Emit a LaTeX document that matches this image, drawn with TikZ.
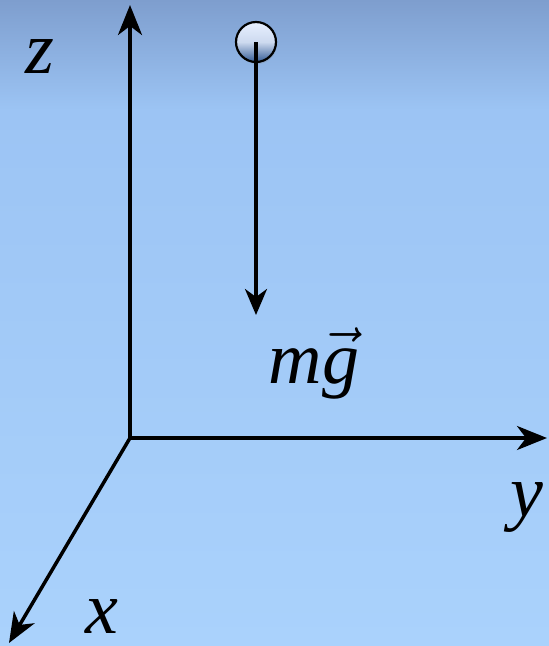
\RequirePackage{fix-cm}
\documentclass[tikz,border=0pt]{standalone}
\usepackage{fontspec}
\setmainfont{Liberation Serif}
\usepackage{xcolor}
\usepackage{tikz}
\usetikzlibrary{arrows.meta,positioning,calc,shadows}

\definecolor{skytop}{RGB}{126,158,206}
\definecolor{skymid}{RGB}{156,196,244}
\definecolor{skylow}{RGB}{170,210,252}
\definecolor{balltop}{RGB}{232,240,255}
\definecolor{ballbot}{RGB}{52,92,150}

\begin{document}
\begin{tikzpicture}[x=1pt,y=-1pt,
  axis/.style={line width=3.5pt,-{Stealth[length=30pt,width=24pt,inset=9pt]}},
  lbl/.style={anchor=base,inner sep=0pt},
  every node/.style={font=\fontsize{74}{74}\selectfont\itshape}
]
  % sky
  \useasboundingbox (0,0) rectangle (549,646);
  \fill[top color=skytop,bottom color=skymid] (0,0) rectangle (549,110);
  \fill[top color=skymid,bottom color=skylow] (0,110) rectangle (549,646);

  % axes
  \coordinate (O) at (130,438);
  \coordinate (zend) at (130,5);
  \coordinate (yend) at (547,438);
  \coordinate (xend) at (9,643);
  \draw[axis] (O) -- (zend);
  \draw[axis] (O) -- (yend);
  \draw[axis] (O) -- (xend);

  \node[lbl] (zlab) at (40,73) {z};
  \node[lbl] (ylab) at (527,516) {y};
  \node[lbl] (xlab) at (102,633) {x};

  % falling ball and its weight
  \node[circle,draw,line width=2.2pt,minimum size=40pt,inner sep=0pt,
        top color=balltop,bottom color=ballbot,middle color=balltop!85!ballbot,
        drop shadow={opacity=0.25,shadow xshift=1pt,shadow yshift=-2pt}]
        (ball) at (256,42) {};
  \coordinate (gtip) at (256,315);
  \draw[line width=3.5pt,-{Stealth[length=26pt,width=22pt,inset=8pt]}] (ball.center) -- (gtip);

  \node[lbl] (mg) at (314,383) {m$\vec{\mbox{\itshape g}}$};
\end{tikzpicture}
\end{document}
